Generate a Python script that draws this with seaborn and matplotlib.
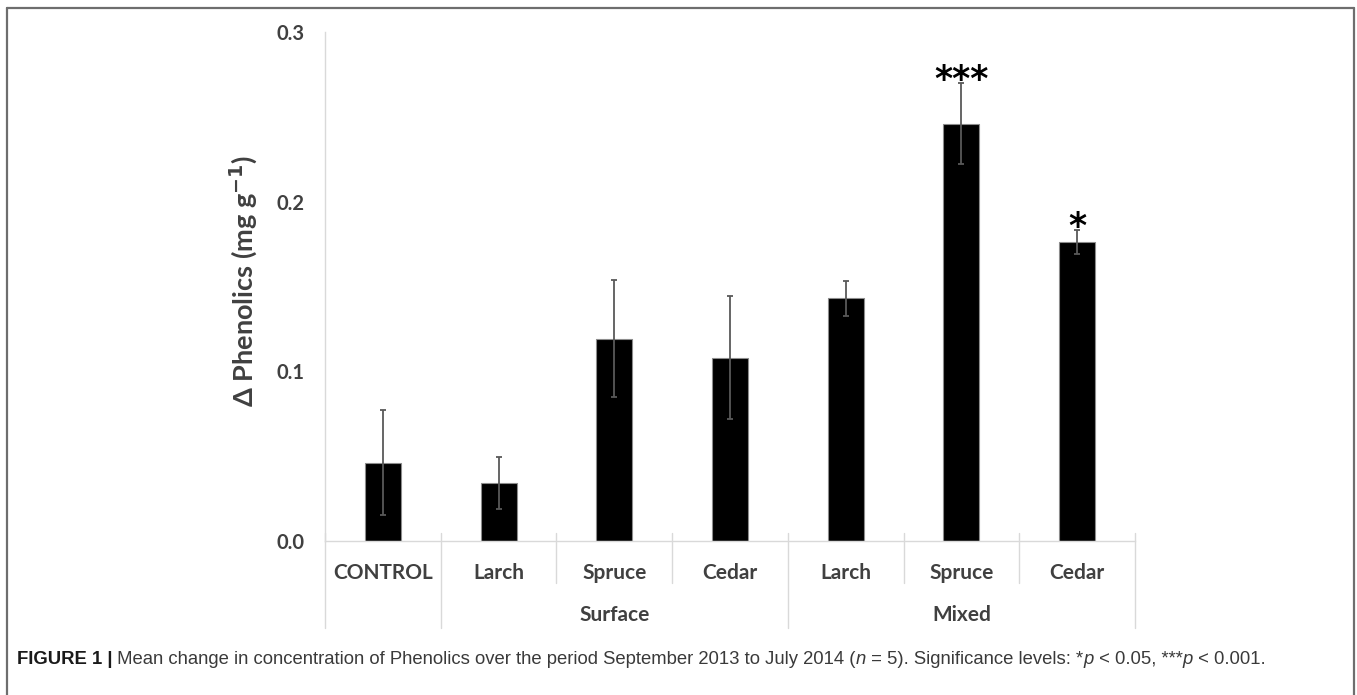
import numpy as np
import pandas as pd
import matplotlib
matplotlib.use("Agg")
import matplotlib.pyplot as plt
import matplotlib.transforms as mtransforms
from matplotlib.lines import Line2D
from matplotlib import font_manager
import seaborn as sns

# treatments, in plot order
groups = ["", "Surface", "Surface", "Surface", "Mixed", "Mixed", "Mixed"]
species = ["CONTROL", "Larch", "Spruce", "Cedar", "Larch", "Spruce", "Cedar"]
means = [0.046, 0.034, 0.119, 0.108, 0.143, 0.246, 0.176]
errs = [0.031, 0.0155, 0.0345, 0.0365, 0.0104, 0.0238, 0.0072]
stars = ["", "", "", "", "", "***", "*"]
yticks = [0.0, 0.1, 0.2, 0.3]

sns.set_style("white")
plt.rcParams['font.family'] = ['Lato', 'DejaVu Sans']

W, H = 1357, 695
grey = "#404040"
light = "#d9d9d9"

df = pd.DataFrame({"key": [g + " " + s for g, s in zip(groups, species)],
                   "mean": means})

fig = plt.figure(figsize=(W / 100, H / 100), dpi=100)
ax = fig.add_axes([325 / W, 154.3 / H, 810 / W, 508.7 / H])

sns.barplot(data=df, x="key", y="mean", color="black", saturation=1,
            width=0.31, edgecolor="#8c8c8c", linewidth=0.8,
            errorbar=None, ax=ax)
pos = np.arange(len(means))
ax.errorbar(pos, means, yerr=errs, fmt="none", ecolor="#595959",
            elinewidth=1.3, capsize=2.2, capthick=1.3)

for i, s in enumerate(stars):
    if s:
        ax.annotate(s, (i, means[i] + errs[i]), xytext=(0, -5),
                    textcoords="offset points", ha="center", va="baseline",
                    fontsize=25, fontweight="bold", family="DejaVu Sans",
                    color="black")

ax.set_xlim(-0.5, len(means) - 0.5)
ax.set_ylim(0, 0.3)
ax.set_yticks(yticks)
ax.set_yticklabels([f"{v:.1f}" for v in yticks])
ax.set_xticks(pos)
ax.set_xticklabels(species)
ax.set_xlabel("")
ax.set_ylabel("Δ Phenolics (mg g$^{\\mathbf{-1}}$)", fontsize=19.5,
              fontweight="bold", color=grey)
ax.yaxis.set_label_coords(-0.082, 0.511)

for side in ["top", "right"]:
    ax.spines[side].set_visible(False)
for side in ["left", "bottom"]:
    ax.spines[side].set_color(light)
    ax.spines[side].set_linewidth(1)
ax.tick_params(axis="y", length=5, width=1, color=light, pad=10,
               labelsize=14.5, labelcolor=grey)
ax.tick_params(axis="x", length=0, pad=16, labelsize=15, labelcolor=grey)
for lab in ax.get_xticklabels() + ax.get_yticklabels():
    lab.set_fontweight("bold")

# category separators below the axis
trans = mtransforms.blended_transform_factory(ax.transData, ax.transAxes)
n = len(means)
for b in range(n + 1):
    long_line = b == 0 or b == n or groups[b] != groups[b - 1]
    y_end = -0.1716 if long_line else -0.083
    ax.plot([b - 0.5, b - 0.5], [0.015, y_end], transform=trans,
            color=light, lw=1, clip_on=False)

for g in dict.fromkeys(groups):
    if g:
        idx = [i for i, gg in enumerate(groups) if gg == g]
        ax.text(np.mean(idx), -0.146, g, transform=trans, ha="center",
                va="center", fontsize=15, fontweight="bold", color=grey)

# figure frame
fx = lambda px: px / W
fy = lambda py: 1 - py / H
for xs, ys in [([7, 7], [8, 700]), ([7, 1354], [8, 8]), ([1354, 1354], [8, 700])]:
    fig.add_artist(Line2D([fx(v) for v in xs], [fy(v) for v in ys],
                          color="#6e6e6e", lw=1.6))

# caption
names = {f.name for f in font_manager.fontManager.ttflist}
cap_font = "Liberation Sans Narrow" if "Liberation Sans Narrow" in names else "Liberation Sans"
caption = [
    ("FIGURE 1 |", "bold"),
    (" Mean change in concentration of Phenolics over the period September 2013 to July 2014 (", "normal"),
    ("n", "italic"),
    (" = 5). Significance levels: *", "normal"),
    ("p", "italic"),
    (" < 0.05, ***", "normal"),
    ("p", "italic"),
    (" < 0.001.", "normal"),
]
fig.canvas.draw()
renderer = fig.canvas.get_renderer()
x = 17
for txt, style in caption:
    t = fig.text(fx(x), fy(663.5), txt, family=cap_font, fontsize=13.3,
                 fontweight="bold" if style == "bold" else "normal",
                 fontstyle="italic" if style == "italic" else "normal",
                 color="#1a1a1a" if style == "bold" else "#3a3a3a",
                 ha="left", va="baseline")
    x = t.get_window_extent(renderer).x1

fig.savefig("out.png", dpi=100)
